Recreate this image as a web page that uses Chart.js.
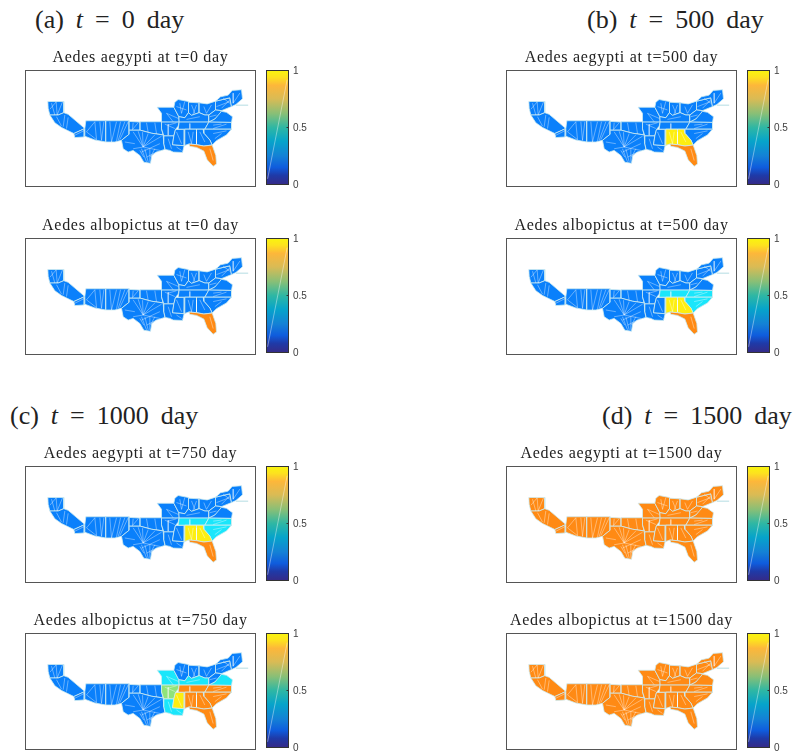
<!DOCTYPE html>
<html><head><meta charset="utf-8">
<script src="https://cdn.jsdelivr.net/npm/chart.js@4"></script>
<style>
html,body{margin:0;padding:0;background:#fff;}
#page{position:relative;width:793px;height:753px;overflow:hidden;}
canvas{position:absolute;}
.head{position:absolute;font-family:"Liberation Serif",serif;font-size:26px;color:#222;white-space:pre;word-spacing:5.5px;line-height:30px;}
</style></head><body><div id="page"></div>
<script>
// Headings and panel titles
const headings = [['(a) ','t',' = 0 day'],['(b) ','t',' = 500 day'],['(c) ','t',' = 1000 day'],['(d) ','t',' = 1500 day']];
const panelTitles = ['Aedes aegypti at t=0 day','Aedes albopictus at t=0 day','Aedes aegypti at t=500 day','Aedes albopictus at t=500 day',
  'Aedes aegypti at t=750 day','Aedes albopictus at t=750 day','Aedes aegypti at t=1500 day','Aedes albopictus at t=1500 day'];
// Map region outlines (map units)
const west1=[[144,305],[192,305],[192,338],[175,345],[150,345],[145,325]];
const west2=[[150,345],[175,345],[192,338],[205,343],[255,385],[222,400],[185,382],[165,368]];
const west3=[[222,400],[255,385],[253,410],[225,412]];
const plain1=[[258,362],[318,362],[318,425],[285,419],[255,408],[255,385]];
const plain2=[[318,362],[388,362],[388,402],[365,420],[345,425],[318,425]];
const mesa=[[388,364],[421,366],[421,390],[388,390]];
const oklahoma=[[421,365],[486,365],[485,386],[490,404],[455,399],[421,390]];
const texas=[[388,390],[421,390],[455,399],[490,404],[492,430],[495,447],[470,455],[456,465],[452,488],[432,485],[420,465],[400,450],[385,455],[370,445],[365,420],[388,402]];
const missouri=[[472,322],[522,322],[537,350],[538,366],[485,366],[485,340]];
const arkansas=[[485,366],[538,366],[535,378],[527,388],[522,407],[492,407],[485,386]];
const louisiana=[[492,407],[522,407],[518,433],[553,436],[548,456],[520,455],[510,450],[496,447],[492,430]];
const mississippi=[[527,388],[555,387],[553,436],[518,433],[522,407]];
const illinois=[[522,322],[525,307],[535,299],[566,305],[566,338],[555,353],[537,350]];
const indiana=[[566,307],[598,309],[598,338],[575,346],[566,338]];
const ohio=[[598,309],[622,312],[647,304],[647,330],[627,345],[615,345],[598,338]];
const pennsylvania=[[647,304],[690,294],[695,320],[665,332],[647,330]];
const newEngland=[[647,304],[662,291],[685,286],[697,272],[725,270],[728,297],[708,314],[695,320],[690,294]];
const kentucky=[[538,366],[537,350],[555,353],[566,338],[575,346],[598,338],[615,345],[627,345],[627,366]];
const westVirginia=[[627,345],[647,330],[665,332],[660,342],[645,357],[627,366]];
const virginia=[[627,366],[645,357],[665,334],[680,337],[698,350],[695,367]];
const tennessee=[[538,366],[627,366],[615,387],[535,387]];
const northCarolina=[[627,366],[695,367],[695,387],[615,387]];
const southCarolina=[[610,387],[695,387],[680,404],[650,421],[637,434],[630,419],[612,399]];
const georgia=[[590,387],[610,387],[612,399],[630,419],[637,434],[612,437],[590,433]];
const alabama=[[555,387],[590,387],[590,433],[567,431],[553,436]];
const florida=[[567,431],[590,433],[612,437],[637,434],[648,465],[650,490],[640,497],[622,478],[612,452],[590,441],[570,438]];
const regionShapes=[west1,west2,west3,plain1,plain2,mesa,oklahoma,texas,missouri,arkansas,louisiana,mississippi,illinois,indiana,ohio,pennsylvania,newEngland,kentucky,westVirginia,virginia,tennessee,northCarolina,southCarolina,georgia,alabama,florida];
// Occupancy level per region: B blue, O orange, Y yellow, C cyan, G green
const aegypti0   =['B','B','B','B','B','B','B','B','B','B','B','B','B','B','B','B','B','B','B','B','B','B','B','B','B','O'];
const albopictus0=['B','B','B','B','B','B','B','B','B','B','B','B','B','B','B','B','B','B','B','B','B','B','B','B','B','O'];
const aegypti500 =['B','B','B','B','B','B','B','B','B','B','B','B','B','B','B','B','B','B','B','B','B','B','B','Y','Y','O'];
const albopictus500=['B','B','B','B','B','B','B','B','B','B','B','B','B','B','B','B','B','B','B','B','C','C','C','Y','Y','O'];
const aegypti750 =['B','B','B','B','B','B','B','B','B','B','B','B','B','B','B','B','B','B','B','B','C','C','C','Y','Y','O'];
const albopictus750=['B','B','B','B','B','B','B','B','C','G','C','Y','B','B','B','B','B','C','B','C','O','O','O','O','O','O'];
const aegypti1500=['O','O','O','O','O','O','O','O','O','O','O','O','O','O','O','O','O','O','O','O','O','O','O','O','O','O'];
const albopictus1500=['O','O','O','O','O','O','O','O','O','O','O','O','O','O','O','O','O','O','O','O','O','O','O','O','O','O'];
const panelLevels=[aegypti0,albopictus0,aegypti500,albopictus500,aegypti750,albopictus750,aegypti1500,albopictus1500];
const levelColors={B:'#0a80fb',O:'#ff8a14',Y:'#fdee10',C:'#1ae6fb',G:'#8fe37a'};
// Light mesh seams (x1,y1,x2,y2 in map units)
const seams=[[169,306,172,345],[169,306,150,328],[188,306,172,345],[155,310,165,345],[170,350,185,378],[195,345,190,380],[205,352,200,385],[225,405,255,390],
[260,395,285,365],[260,395,290,418],[285,365,290,418],[300,365,305,420],[312,365,305,420],[330,365,335,425],[350,365,335,425],[362,365,350,422],[375,365,355,420],[385,365,360,418],
[400,368,398,388],[415,368,398,388],[440,368,445,396],[465,368,470,400],[430,440,400,395],[430,440,415,393],[430,440,428,396],[430,440,445,400],[430,440,465,404],[430,440,485,408],[430,440,480,450],[430,440,400,445],[405,430,375,425],
[440,484,425,445],[445,484,435,445],[450,484,450,445],[452,470,465,445],[432,470,420,450],[440,470,470,455],[425,455,480,430],
[500,340,520,365],[500,340,535,355],[495,372,525,385],[505,372,505,405],[540,310,545,340],[555,305,545,340],[530,320,560,330],[575,315,585,340],[590,315,580,342],[612,320,620,340],[635,315,620,340],[650,320,690,305],[665,325,690,300],[670,295,690,310],[700,280,700,310],[720,280,700,310],
[560,358,600,350],[630,350,650,345],[640,375,665,372],[640,385,680,372],[570,370,570,386],[590,395,590,430],[600,395,615,425],[565,395,575,430],[580,395,575,430],[640,400,680,392],[645,415,665,400],[530,395,545,430],[505,415,515,445],[530,440,545,450],[630,445,640,480],[505,375,530,368]];
const seamPoints=seams.flatMap(s=>[{x:s[0],y:s[1]},{x:s[2],y:s[3]},{x:null,y:null}]);
// Colour bar
const colorStops=[[0,'#352a87'],[0.08,'#1f3aa8'],[0.15,'#0f5cdd'],[0.25,'#1481d6'],[0.38,'#06a4ca'],[0.5,'#2eb7a4'],[0.62,'#87bf77'],[0.75,'#d9bb55'],[0.87,'#fdb73a'],[0.94,'#fde21f'],[1,'#f9f50e']];
const barTop=[{x:0,y:1},{x:1,y:1}];
const barStreak=[{x:0.05,y:0.05},{x:0.94,y:0.92}];
const barTicks=[0,0.5,1];
// Layout
const colX=[25.5,506.5];
const rowY=[70.5,238.5,466.5,633.5];
const headPos=[[35,5],[587,5],[10,401],[602,401]];

const frame={id:'frame',beforeDraw(c){c.ctx.letterSpacing=c.config.options.titleSpacing||'0px';},afterDraw(c){const a=c.chartArea,x=c.ctx;x.save();x.strokeStyle=c.config.options.frameColor;x.lineWidth=1;x.strokeRect(a.left,a.top,a.right-a.left,a.bottom-a.top);
  const y=c.scales.y;if(c.config.options.innerTicks){x.beginPath();barTicks.forEach(t=>{const p=y.getPixelForValue(t);x.moveTo(a.right,p);x.lineTo(a.right-2,p);});x.stroke();}x.restore();}};
const page=document.getElementById('page');
function addCanvas(l,t,w,h){const c=document.createElement('canvas');c.width=w;c.height=h;c.style.cssText=`left:${l}px;top:${t}px;width:${w}px;height:${h}px`;page.appendChild(c);return c;}
const base={responsive:false,animation:false,events:[],devicePixelRatio:1};

headings.forEach((h,i)=>{const d=document.createElement('div');d.className='head';d.style.left=headPos[i][0]+'px';d.style.top=headPos[i][1]+'px';
  d.append(h[0]);const e=document.createElement('i');e.textContent=h[1];d.append(e);d.append(h[2]);page.appendChild(d);});

panelTitles.forEach((title,i)=>{
  const col=(i===0||i===1||i===4||i===5)?0:1;
  const left=colX[col], row=i<4?i%2:2+i%2, top=rowY[row];
  const cv=addCanvas(left-1.5,top-26.5,233,143);
  const datasets=[{data:seamPoints,showLine:true,spanGaps:false,borderColor:'rgba(255,255,255,0.38)',borderWidth:1,pointRadius:0,fill:false},
    {data:[{x:708,y:316},{x:745,y:316}],showLine:true,borderColor:'#cde8ec',borderWidth:1.5,pointRadius:0,fill:false}];
  regionShapes.forEach((s,k)=>{const pts=s.concat([s[0]]).map(p=>({x:p[0],y:p[1]}));
    datasets.splice(2,0,{data:pts,showLine:true,fill:'shape',backgroundColor:levelColors[panelLevels[i][k]],borderColor:'rgba(205,235,240,0.8)',borderWidth:1,pointRadius:0,tension:0});});
  new Chart(cv,{type:'scatter',data:{datasets},plugins:[frame],options:{...base,frameColor:'#555',titleSpacing:'0.7px',
    layout:{padding:{left:1.5,right:1.5,top:1,bottom:0.5}},
    scales:{x:{type:'linear',display:false,min:77,max:767},y:{type:'linear',display:false,min:213,max:557,reverse:true}},
    plugins:{legend:{display:false},tooltip:{enabled:false},
      title:{display:true,text:title,color:'#222',font:{family:'"Liberation Serif"',size:16,weight:'normal',lineHeight:1.2},padding:{top:3.4,bottom:2.9}}}}});
  const bv=addCanvas(left+239.5,top-10.5,52,135);
  new Chart(bv,{type:'scatter',data:{datasets:[
    {data:barStreak,showLine:true,borderColor:'rgba(255,255,255,0.4)',borderWidth:1,pointRadius:0,fill:false},
    {data:barTop,showLine:true,fill:'origin',pointRadius:0,borderWidth:0,backgroundColor(ctx){const a=ctx.chart.chartArea;if(!a)return '#1481d6';
      const g=ctx.chart.ctx.createLinearGradient(0,a.bottom,0,a.top);colorStops.forEach(s=>g.addColorStop(s[0],s[1]));return g;}}]},
    plugins:[frame],options:{...base,frameColor:'#333',innerTicks:true,
    layout:{padding:{left:1.5,right:0,top:10.5,bottom:8.5}},
    scales:{x:{type:'linear',display:false,min:0,max:1},
      y:{type:'linear',position:'right',min:0,max:1,afterBuildTicks(s){s.ticks=barTicks.map(v=>({value:v}));},afterFit(s){s.width=28.5;},
        grid:{display:false,drawTicks:false},border:{display:false},
        ticks:{color:'#404040',padding:4.5,labelOffset:1,font:{family:'"Liberation Sans"',size:10},callback:v=>String(v)}}},
    plugins:{legend:{display:false},tooltip:{enabled:false}}}});
});
</script></body></html>
